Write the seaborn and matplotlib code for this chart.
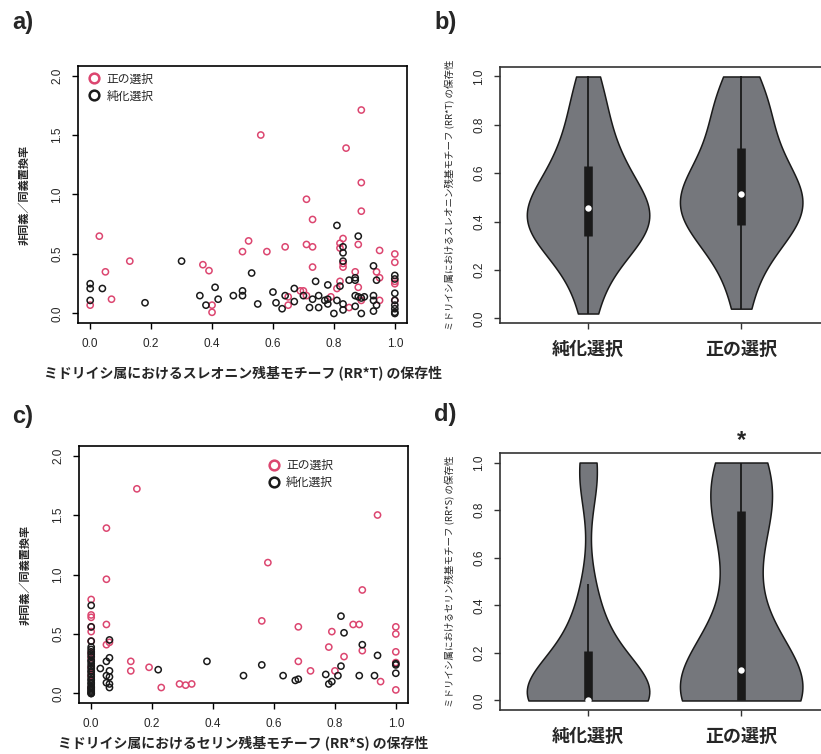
import matplotlib
matplotlib.use("Agg")
import matplotlib.pyplot as plt
from matplotlib.lines import Line2D
import pandas as pd
import seaborn as sns

# colours
pink = "#DC4670"
ink = "#1a1a1a"
violin_grey = "#75777c"

groups = ["純化選択", "正の選択"]          # purifying, positive
legend_labels = ["正の選択", "純化選択"]

# ---- a) threonine motif (RR*T): conservation vs dN/dS
thr_pos_x = [0.03, 0.05, 0.07, 0.00, 0.13, 0.37, 0.39, 0.40, 0.40, 0.50,
             0.52, 0.56, 0.58, 0.64, 0.65, 0.65, 0.69, 0.70, 0.71, 0.71,
             0.73, 0.73, 0.73, 0.71, 0.79, 0.82, 0.82, 0.83, 0.83, 0.83,
             0.82, 0.81, 0.84, 0.85, 0.89, 0.89, 0.89, 0.88, 0.87, 0.88,
             0.89, 0.95, 0.94, 0.95, 0.95, 1.00, 1.00, 1.00, 1.00, 1.00]
thr_pos_y = [0.65, 0.35, 0.12, 0.07, 0.44, 0.41, 0.36, 0.07, 0.01, 0.52,
             0.61, 1.50, 0.52, 0.56, 0.07, 0.14, 0.19, 0.19, 0.96, 0.58,
             0.79, 0.56, 0.39, 0.15, 0.14, 0.59, 0.55, 0.63, 0.39, 0.42,
             0.27, 0.21, 1.39, 0.05, 1.71, 1.10, 0.86, 0.58, 0.35, 0.22,
             0.11, 0.53, 0.35, 0.30, 0.11, 0.50, 0.43, 0.27, 0.25, 0.11]
thr_pur_x = [0.00, 0.00, 0.00, 0.04, 0.18, 0.30, 0.36, 0.38, 0.41, 0.42,
             0.47, 0.50, 0.50, 0.53, 0.55, 0.60, 0.61, 0.63, 0.64, 0.67,
             0.67, 0.70, 0.72, 0.73, 0.74, 0.75, 0.75, 0.77, 0.78, 0.78,
             0.78, 0.80, 0.81, 0.81, 0.82, 0.83, 0.83, 0.83, 0.83, 0.83,
             0.85, 0.87, 0.87, 0.88, 0.87, 0.88, 0.89, 0.90, 0.87, 0.89,
             0.93, 0.94, 0.93, 0.93, 0.94, 0.93, 1.00, 1.00, 1.00, 1.00,
             1.00, 1.00, 1.00, 1.00]
thr_pur_y = [0.25, 0.21, 0.11, 0.21, 0.09, 0.44, 0.15, 0.07, 0.22, 0.12,
             0.15, 0.19, 0.15, 0.34, 0.08, 0.18, 0.09, 0.04, 0.15, 0.21,
             0.10, 0.15, 0.05, 0.12, 0.27, 0.15, 0.05, 0.11, 0.24, 0.12,
             0.08, 0.00, 0.11, 0.74, 0.23, 0.56, 0.51, 0.44, 0.03, 0.08,
             0.28, 0.30, 0.28, 0.65, 0.15, 0.14, 0.13, 0.14, 0.06, 0.00,
             0.40, 0.28, 0.15, 0.11, 0.07, 0.02, 0.32, 0.29, 0.17, 0.11,
             0.07, 0.04, 0.01, 0.00]

# ---- c) serine motif (RR*S)
ser_pos_x = [0.00, 0.00, 0.00, 0.00, 0.00, 0.00, 0.00, 0.00, 0.00, 0.00,
             0.00, 0.05, 0.05, 0.05, 0.05, 0.06, 0.15, 0.13, 0.13, 0.19,
             0.23, 0.29, 0.31, 0.33, 0.56, 0.58, 0.68, 0.68, 0.72, 0.78,
             0.79, 0.80, 0.83, 0.86, 0.88, 0.89, 0.89, 0.94, 0.95, 1.00,
             1.00, 1.00, 1.00, 1.00]
ser_pos_y = [0.79, 0.66, 0.64, 0.56, 0.52, 0.44, 0.34, 0.30, 0.22, 0.15,
             0.05, 1.39, 0.96, 0.58, 0.41, 0.43, 1.72, 0.27, 0.19, 0.22,
             0.05, 0.08, 0.07, 0.08, 0.61, 1.10, 0.56, 0.27, 0.19, 0.39,
             0.52, 0.19, 0.31, 0.58, 0.58, 0.36, 0.87, 1.50, 0.10, 0.56,
             0.50, 0.35, 0.26, 0.03]
ser_pur_x = [0.00, 0.00, 0.00, 0.00, 0.00, 0.00, 0.00, 0.00, 0.00, 0.00,
             0.00, 0.00, 0.00, 0.00, 0.00, 0.00, 0.00, 0.00, 0.00, 0.00,
             0.00, 0.00, 0.00, 0.00, 0.00, 0.00, 0.00, 0.00, 0.00, 0.05,
             0.03, 0.05, 0.05, 0.06, 0.06, 0.06, 0.06, 0.06, 0.06, 0.22,
             0.38, 0.50, 0.56, 0.63, 0.67, 0.68, 0.77, 0.78, 0.79, 0.81,
             0.82, 0.82, 0.83, 0.88, 0.89, 0.93, 0.94, 1.00, 1.00, 1.00]
ser_pur_y = [0.74, 0.56, 0.44, 0.39, 0.37, 0.35, 0.33, 0.31, 0.28, 0.27,
             0.25, 0.23, 0.21, 0.19, 0.18, 0.16, 0.14, 0.12, 0.11, 0.09,
             0.08, 0.06, 0.05, 0.04, 0.03, 0.02, 0.01, 0.00, 0.00, 0.27,
             0.21, 0.15, 0.09, 0.30, 0.45, 0.19, 0.14, 0.08, 0.05, 0.20,
             0.27, 0.15, 0.24, 0.15, 0.11, 0.12, 0.16, 0.08, 0.10, 0.15,
             0.23, 0.65, 0.51, 0.15, 0.41, 0.15, 0.32, 0.25, 0.24, 0.17]

# ---- b) / d) motif conservation per selection class
thr_cons_pur = [0.02, 0.15, 0.22, 0.28, 0.31, 0.33, 0.34, 0.37, 0.39, 0.41,
                0.42, 0.44, 0.455, 0.47, 0.49, 0.52, 0.55, 0.59, 0.63, 0.66,
                0.71, 0.77, 0.84, 0.92, 1.00]
thr_cons_pos = [0.04, 0.17, 0.26, 0.31, 0.35, 0.37, 0.385, 0.41, 0.44, 0.46,
                0.48, 0.50, 0.515, 0.53, 0.55, 0.58, 0.61, 0.66, 0.705, 0.74,
                0.79, 0.85, 0.90, 0.95, 1.00]
ser_cons_pur = [0.00] * 24 + [0.03, 0.05, 0.06, 0.08, 0.10, 0.12, 0.14, 0.16,
                              0.18, 0.19, 0.20, 0.22, 0.25, 0.29, 0.33, 0.38,
                              0.44, 0.49, 0.88, 0.94, 0.98, 1.00, 1.00]
ser_cons_pos = [0.00] * 9 + [0.02, 0.04, 0.06, 0.08, 0.10, 0.13, 0.17, 0.22,
                             0.30, 0.42, 0.55, 0.70, 0.795, 0.82, 0.85, 0.88,
                             0.92, 0.96, 1.00, 1.00]

sns.set_style("ticks")
plt.rcParams["font.family"] = ["Liberation Sans", "Noto Sans CJK JP"]
jp = ["Noto Sans CJK JP", "DejaVu Sans"]

W, H = 821, 754
fig = plt.figure(figsize=(W / 100, H / 100), dpi=100)


def axes_px(left, top, right, bottom):
    return fig.add_axes([left / W, 1 - bottom / H, (right - left) / W, (bottom - top) / H])


def style_frame(ax, color="black", lw=1.2):
    for s in ax.spines.values():
        s.set_color(color)
        s.set_linewidth(lw)
    ax.tick_params(length=4.5, width=1.0, color=color, pad=6, labelsize=8.5)
    for lab in ax.get_yticklabels():
        lab.set_rotation(90)
        lab.set_va("center")


def scatter_panel(ax, pos_x, pos_y, pur_x, pur_y, xlabel, xlabel_pad, leg_anchor):
    pos = pd.DataFrame({"cons": pos_x, "ratio": pos_y})
    pur = pd.DataFrame({"cons": pur_x, "ratio": pur_y})
    sns.scatterplot(data=pos, x="cons", y="ratio", ax=ax, s=20,
                    facecolor="none", edgecolor=pink, linewidth=1.1)
    sns.scatterplot(data=pur, x="cons", y="ratio", ax=ax, s=20,
                    facecolor="none", edgecolor=ink, linewidth=1.1)
    ax.set_xlim(-0.04, 1.04)
    ax.set_ylim(-0.08, 2.08)
    ax.set_xticks([0, 0.2, 0.4, 0.6, 0.8, 1.0])
    ax.set_xticklabels(["0.0", "0.2", "0.4", "0.6", "0.8", "1.0"])
    ax.set_yticks([0, 0.5, 1.0, 1.5, 2.0])
    ax.set_yticklabels(["0.0", "0.5", "1.0", "1.5", "2.0"])
    style_frame(ax)
    ax.set_xlabel(xlabel, family=jp, fontweight="bold", fontsize=10, labelpad=xlabel_pad)
    ax.set_ylabel("非同義／同義置換率", family=jp, fontweight="bold", fontsize=8)
    ax.yaxis.set_label_coords(-0.145, 0.5)
    handles = [Line2D([], [], ls="none", marker="o", ms=7, mfc="none", mec=c, mew=1.8)
               for c in (pink, ink)]
    ax.legend(handles, legend_labels, loc="upper left", bbox_to_anchor=leg_anchor,
              frameon=False, handlelength=1.0, handletextpad=0.5, labelspacing=0.35,
              borderpad=0, borderaxespad=0, prop={"family": jp, "size": 8.5})


def violin_panel(ax, pur_vals, pos_vals, ylabel):
    df = pd.DataFrame({"group": [groups[0]] * len(pur_vals) + [groups[1]] * len(pos_vals),
                       "cons": pur_vals + pos_vals})
    sns.violinplot(data=df, x="group", y="cons", order=groups, ax=ax,
                   color=violin_grey, saturation=1, linecolor=ink, linewidth=1.1,
                   cut=0, density_norm="width", width=0.8, inner="box",
                   inner_kws=dict(box_width=6.2, whis_width=1.3, marker="o"))
    # square box ends and a smaller median dot, as in vioplot
    for ln in ax.lines:
        ln.set_solid_capstyle("butt")
        if ln.get_marker() == "o":
            ln.set_markersize(4.6)
            ln.set_markeredgewidth(0)
            ln.set_zorder(10)
    lo = min(pur_vals + pos_vals)
    hi = max(pur_vals + pos_vals)
    ax.set_xlim(-0.575, 1.58)
    ax.set_ylim(lo - 0.04 * (hi - lo), hi + 0.04 * (hi - lo))
    ax.set_yticks([0, 0.2, 0.4, 0.6, 0.8, 1.0])
    ax.set_yticklabels(["0.0", "0.2", "0.4", "0.6", "0.8", "1.0"])
    style_frame(ax, color="#333333", lw=1.2)
    ax.tick_params(axis="x", labelsize=13, pad=8)
    for lab in ax.get_xticklabels():
        lab.set_family(jp)
        lab.set_fontweight("bold")
    ax.set_xlabel("")
    ax.set_ylabel(ylabel, family=jp, fontsize=6.8)
    ax.yaxis.set_label_coords(-0.135, 0.5)


ax_a = axes_px(78, 66, 407, 323)
ax_c = axes_px(79, 446, 408, 703)
ax_b = axes_px(500, 67, 830, 323)
ax_d = axes_px(500, 453, 830, 710)

scatter_panel(ax_a, thr_pos_x, thr_pos_y, thr_pur_x, thr_pur_y,
              "ミドリイシ属におけるスレオニン残基モチーフ (RR*T) の保存性", 11, (0.032, 0.975))
scatter_panel(ax_c, ser_pos_x, ser_pos_y, ser_pur_x, ser_pur_y,
              "ミドリイシ属におけるセリン残基モチーフ (RR*S) の保存性", 4, (0.575, 0.95))

violin_panel(ax_b, thr_cons_pur, thr_cons_pos,
             "ミドリイシ属におけるスレオニン残基モチーフ (RR*T) の保存性")
violin_panel(ax_d, ser_cons_pur, ser_cons_pos,
             "ミドリイシ属におけるセリン残基モチーフ (RR*S) の保存性")

# significance mark
ax_d.text(1, 1.005, "*", transform=ax_d.get_xaxis_transform(), ha="center", va="bottom",
          fontsize=17, fontweight="bold")

for lab, x, y in [("a)", 12, 22), ("b)", 434, 22), ("c)", 12, 417), ("d)", 434, 415)]:
    fig.text(x / W, 1 - y / H, lab, fontsize=17, fontweight="bold", va="center", ha="left")

fig.savefig("out.png", dpi=100)
